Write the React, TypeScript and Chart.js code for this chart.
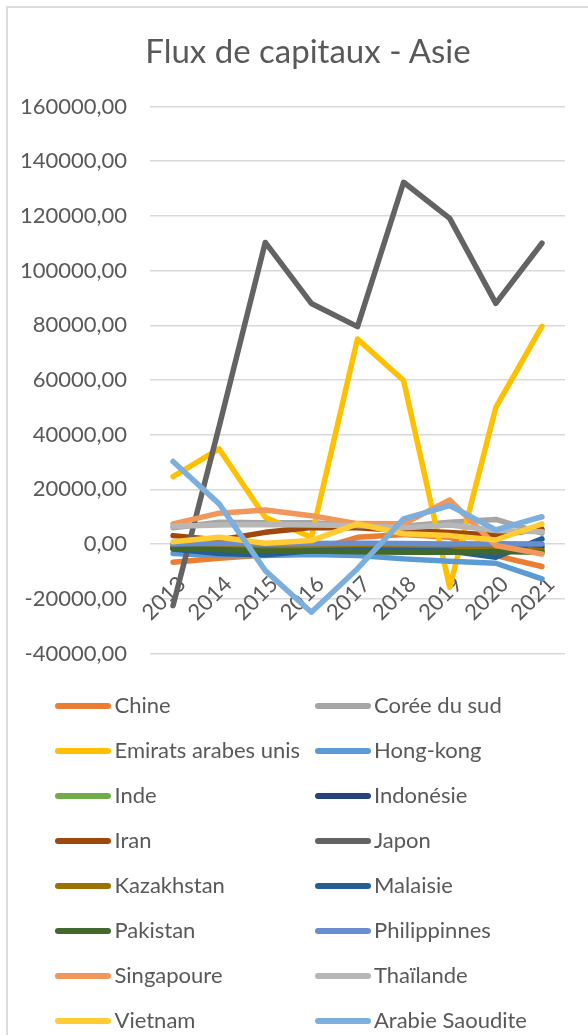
import React, { useEffect, useRef } from "react";
import { Chart, registerables } from "chart.js";

Chart.register(...registerables);

// ---- data ----
const years = ["2013", "2014", "2015", "2016", "2017", "2018", "2019", "2020", "2021"];

const chine = [-6600, -5200, -4000, -2500, 2500, 3500, 2500, -4200, -8200];
const coreeDuSud = [6000, 8000, 7800, 7800, 7000, 6500, 8000, 9000, 4000];
const emirats = [24700, 34800, 9800, 2500, 75000, 59800, -15800, 50000, 79600];
const hongKong = [-3400, -4200, -4200, -3800, -4200, -5400, -6300, -7000, -12700];
const inde = [-500, -800, -1200, -1000, -1500, -1200, -1500, -1800, -2000];
const indonesie = [-1500, -1800, -2000, -1500, -1200, -1000, -1100, -1300, -1000];
const iran = [3100, 1500, 4300, 6100, 6000, 5000, 4200, 3200, 5500];
const japon = [-22500, 43000, 110300, 88000, 79500, 132300, 119100, 88000, 110000];
const kazakhstan = [-1000, -1500, -1200, -800, -1000, -1500, -1200, -1000, -2400];
const malaisie = [-1800, -3400, -3900, -2400, -2200, -2300, -2500, -4800, 1900];
const pakistan = [-1500, -2000, -2500, -2500, -2800, -3000, -3000, -2700, -3000];
const philippinnes = [0, 300, 0, 200, 300, 200, 0, 100, 0];
const singapoure = [7400, 11300, 12500, 10400, 7500, 7400, 16100, -500, -3600];
const thailande = [6500, 7000, 7200, 7000, 6800, 6000, 7000, 5000, 4500];
const vietnam = [900, 2500, 300, 1300, 7400, 3800, 3100, 1500, 7400];
const arabieSaoudite = [30200, 14700, -9700, -24900, -9000, 9200, 14100, 5200, 10000];

const seriesNames = [
  "Chine", "Corée du sud", "Emirats arabes unis", "Hong-kong", "Inde", "Indonésie",
  "Iran", "Japon", "Kazakhstan", "Malaisie", "Pakistan", "Philippinnes",
  "Singapoure", "Thaïlande", "Vietnam", "Arabie Saoudite",
];
const seriesValues = [
  chine, coreeDuSud, emirats, hongKong, inde, indonesie, iran, japon,
  kazakhstan, malaisie, pakistan, philippinnes, singapoure, thailande, vietnam, arabieSaoudite,
];
const seriesColors = [
  "#ED7D31", "#A5A5A5", "#FFC000", "#5B9BD5", "#70AD47", "#264478",
  "#9E480E", "#636363", "#997300", "#255E91", "#43682B", "#698ED0",
  "#F1975A", "#B7B7B7", "#FFCD33", "#7CAFDD",
];

const title = "Flux de capitaux - Asie";
const yMin = -40000;
const yMax = 160000;
const yStep = 20000;

const TEXT = "#595959";
const FONT = "Lato";

function fmt(v: number): string {
  return v.toFixed(2).replace(".", ",");
}

export default function App() {
  const ref = useRef<HTMLCanvasElement>(null);

  useEffect(() => {
    const canvas = ref.current;
    if (!canvas) return;
    const n = seriesNames.length;
    const chart = new Chart(canvas, {
      type: "line",
      data: {
        labels: years,
        datasets: seriesNames.map((name, i) => ({
          label: name,
          data: seriesValues[i],
          borderColor: seriesColors[i],
          backgroundColor: seriesColors[i],
          borderWidth: 5.5,
          pointRadius: 0,
          pointHoverRadius: 0,
          tension: 0,
          fill: false,
          borderCapStyle: "round",
          borderJoinStyle: "round",
          order: n - i,
        })),
      },
      options: {
        animation: false,
        responsive: false,
        maintainAspectRatio: false,
        devicePixelRatio: 1,
        events: [],
        layout: { padding: { left: 0, right: 7, top: 106.5, bottom: 1035 - 653.5 } },
        plugins: {
          legend: { display: false },
          title: { display: false },
          tooltip: { enabled: false },
        },
        scales: {
          x: {
            type: "category",
            position: { y: 0 } as any,
            offset: true,
            grid: { display: false, drawTicks: false },
            border: { display: false },
            ticks: {
              autoSkip: false,
              maxRotation: 45,
              minRotation: 45,
              color: TEXT,
              font: { family: FONT, size: 22 },
              padding: 27,
              labelOffset: 9,
            },
          },
          y: {
            type: "linear",
            min: yMin,
            max: yMax,
            grid: { color: "#D9D9D9", lineWidth: 1.5, drawTicks: false },
            border: { display: false },
            ticks: {
              stepSize: yStep,
              color: TEXT,
              font: { family: FONT, size: 22 },
              padding: 23,
              callback: (v: any) => fmt(Number(v)),
            },
            afterFit: (s: any) => {
              s.width = 150;
            },
          },
        },
      } as any,
    });
    return () => chart.destroy();
  }, []);

  return (
    <div
      style={{
        position: "fixed",
        left: 0,
        top: 0,
        width: 588,
        height: 1035,
        overflow: "hidden",
        background: "#FFFFFF",
      }}
    >
      <div
        style={{
          position: "absolute",
          left: 6,
          top: 6,
          width: 700,
          height: 1200,
          borderLeft: "2px solid #DCDCDC",
          borderTop: "2px solid #DCDCDC",
        }}
      />
      <canvas
        ref={ref}
        width={588}
        height={1035}
        style={{ position: "absolute", left: 0, top: 0, width: 588, height: 1035 }}
      />
      <div
        style={{
          position: "absolute",
          left: 7,
          top: 30,
          width: 602,
          textAlign: "center",
          fontFamily: FONT,
          fontSize: 33,
          lineHeight: "40px",
          color: TEXT,
          whiteSpace: "nowrap",
        }}
      >
        {title}
      </div>
      {seriesNames.map((name, i) => {
        const col = i % 2;
        const row = Math.floor(i / 2);
        const cy = 705.7 + row * 45;
        return (
          <React.Fragment key={name}>
            <div
              style={{
                position: "absolute",
                left: col ? 315 : 55,
                top: cy - 3,
                width: 56,
                height: 6,
                borderRadius: 3,
                background: seriesColors[i],
              }}
            />
            <div
              style={{
                position: "absolute",
                left: col ? 374 : 114.5,
                top: cy - 14,
                fontFamily: FONT,
                fontSize: 22,
                lineHeight: "26px",
                color: TEXT,
                whiteSpace: "nowrap",
              }}
            >
              {name}
            </div>
          </React.Fragment>
        );
      })}
    </div>
  );
}
